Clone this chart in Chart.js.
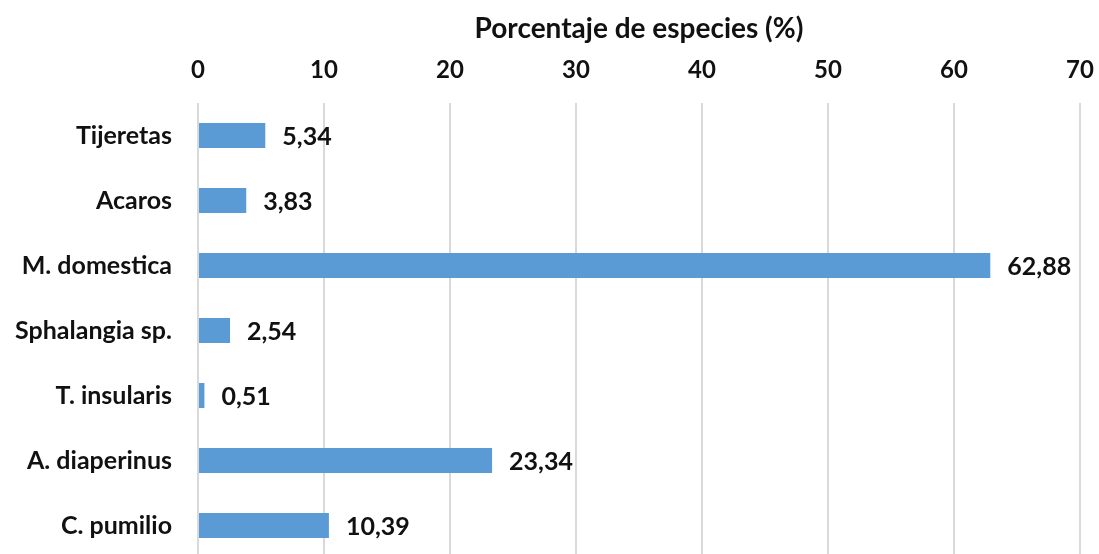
<!DOCTYPE html>
<html>
<head>
<meta charset="utf-8">
<script src="https://cdn.jsdelivr.net/npm/chart.js@4"></script>
<style>
  html, body { margin: 0; padding: 0; background: #fff; overflow: hidden; }
  canvas { display: block; }
</style>
</head>
<body>
<canvas id="chart" width="1099" height="558"></canvas>
<script>
// Datos del gráfico
const categorias = ["Tijeretas", "Acaros", "M. domestica", "Sphalangia sp.", "T. insularis", "A. diaperinus", "C. pumilio"];
const porcentajes = [5.34, 3.83, 62.88, 2.54, 0.51, 23.34, 10.39];
const tituloEje = "Porcentaje de especies (%)";
const ejeMin = 0;
const ejeMax = 70;
const ejePaso = 10;

const FONT = "Lato, 'Open Sans', sans-serif";

// Etiquetas de valor al final de cada barra (coma decimal)
const etiquetasValor = {
  id: "etiquetasValor",
  afterDatasetsDraw(chart) {
    const ctx = chart.ctx;
    const meta = chart.getDatasetMeta(0);
    ctx.save();
    ctx.font = "bold 25px " + FONT;
    ctx.fillStyle = "#111";
    ctx.textAlign = "left";
    ctx.textBaseline = "middle";
    meta.data.forEach((bar, i) => {
      const txt = porcentajes[i].toFixed(2).replace(".", ",");
      ctx.fillText(txt, bar.x + 17, bar.y + 1);
    });
    ctx.restore();
  }
};

new Chart(document.getElementById("chart"), {
  type: "bar",
  data: {
    labels: categorias,
    datasets: [{
      data: porcentajes,
      backgroundColor: "#5b9bd5",
      borderWidth: 0,
      categoryPercentage: 1,
      barPercentage: 0.385
    }]
  },
  options: {
    indexAxis: "y",
    responsive: false,
    animation: false,
    layout: { padding: { left: 0, right: 19, top: 0, bottom: 0 } },
    plugins: {
      legend: { display: false },
      tooltip: { enabled: false }
    },
    scales: {
      x: {
        position: "top",
        min: ejeMin,
        max: ejeMax,
        ticks: {
          stepSize: ejePaso,
          color: "#111",
          font: { family: FONT, size: 24, weight: "bold" },
          padding: 18
        },
        grid: { color: "#d9d9d9", lineWidth: 2, drawTicks: false },
        border: { display: false },
        title: {
          display: true,
          text: tituloEje,
          color: "#111",
          font: { family: FONT, size: 28, weight: "bold" },
          padding: { top: 12, bottom: 7 }
        },
        afterFit(scale) {
          scale.height = 103;
          scale.paddingLeft = 0;
          scale.paddingRight = 0;
        }
      },
      y: {
        ticks: {
          color: "#111",
          font: { family: FONT, size: 25, weight: "bold" },
          padding: 26
        },
        grid: { display: false, drawTicks: false },
        border: { display: false },
        afterFit(scale) {
          scale.width = 198;
          scale.paddingTop = 0;
          scale.paddingBottom = 0;
        }
      }
    }
  },
  plugins: [etiquetasValor]
});
</script>
</body>
</html>
